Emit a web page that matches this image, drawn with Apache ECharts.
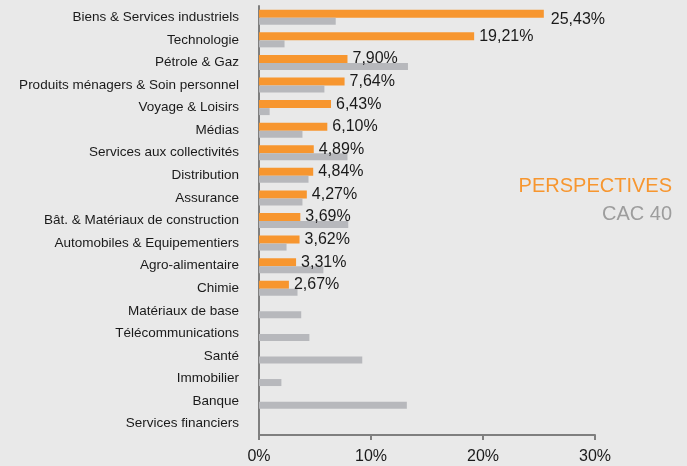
<!DOCTYPE html>
<html>
<head>
<meta charset="utf-8">
<script src="https://cdn.jsdelivr.net/npm/echarts@6/dist/echarts.min.js"></script>
<style>
  html, body { margin: 0; padding: 0; background: #e9e9e9; }
  #chart { width: 687px; height: 466px; }
</style>
</head>
<body>
<div id="chart"></div>
<script>
const categories = [
  'Biens & Services industriels', 'Technologie', 'Pétrole & Gaz',
  'Produits ménagers & Soin personnel', 'Voyage & Loisirs', 'Médias',
  'Services aux collectivités', 'Distribution', 'Assurance',
  'Bât. & Matériaux de construction', 'Automobiles & Equipementiers',
  'Agro-alimentaire', 'Chimie', 'Matériaux de base', 'Télécommunications',
  'Santé', 'Immobilier', 'Banque', 'Services financiers'
]
const perspectives = [25.43, 19.21, 7.90, 7.64, 6.43, 6.10, 4.89, 4.84, 4.27,
  3.69, 3.62, 3.31, 2.67, null, null, null, null, null, null]
const cac40 = [6.85, 2.28, 13.3, 5.84, 0.95, 3.88, 7.9, 4.42, 3.88,
  7.97, 2.46, 5.75, 3.44, 3.77, 4.5, 9.22, 2.0, 13.2, 0]
const xTicks = [0, 10, 20, 30]

const ORANGE = '#f7962f'
const GREY = '#b7b8bc'
const AXIS = '#7f7f7f'
const FONT = '"Liberation Sans", Arial, sans-serif'

// the top label sits a bit lower than the others in the original
const perspData = perspectives.map((v, i) =>
  i === 0 ? { value: v, label: { offset: [2, 6] } } : v)

const chart = echarts.init(document.getElementById('chart'))
chart.setOption({
  backgroundColor: '#e9e9e9',
  textStyle: { fontFamily: FONT },
  grid: { left: 259, right: 92, top: 6, bottom: 31, containLabel: false },
  legend: {
    orient: 'vertical',
    right: 5,
    top: 171,
    align: 'right',
    icon: 'none',
    itemWidth: 0,
    itemGap: 8,
    selectedMode: false,
    textStyle: { fontSize: 20, fontFamily: FONT },
    data: [
      { name: 'PERSPECTIVES', textStyle: { color: ORANGE } },
      { name: 'CAC 40', textStyle: { color: '#9d9d9d' } }
    ]
  },
  xAxis: {
    type: 'value',
    min: xTicks[0],
    max: xTicks[xTicks.length - 1],
    interval: 10,
    splitLine: { show: false },
    axisLine: { show: true, lineStyle: { color: AXIS, width: 2 } },
    axisTick: { show: true, length: 5, lineStyle: { color: AXIS, width: 2 } },
    axisLabel: {
      color: '#1a1a1a', fontSize: 16, margin: 14,
      formatter: v => v + '%'
    }
  },
  yAxis: {
    type: 'category',
    inverse: true,
    data: categories,
    axisLine: { show: true, lineStyle: { color: AXIS, width: 2 } },
    axisTick: { show: false },
    axisLabel: { color: '#1a1a1a', fontSize: 13.5, margin: 20 }
  },
  series: [
    {
      name: 'PERSPECTIVES',
      type: 'bar',
      data: perspData,
      barWidth: 8,
      barGap: '0%',
      itemStyle: { color: ORANGE },
      label: {
        show: true,
        position: 'right',
        distance: 5,
        color: '#1a1a1a',
        fontSize: 16,
        formatter: p => p.value == null ? '' : p.value.toFixed(2).replace('.', ',') + '%'
      }
    },
    {
      name: 'CAC 40',
      type: 'bar',
      data: cac40,
      barWidth: 7,
      itemStyle: { color: GREY }
    }
  ]
})
</script>
</body>
</html>
